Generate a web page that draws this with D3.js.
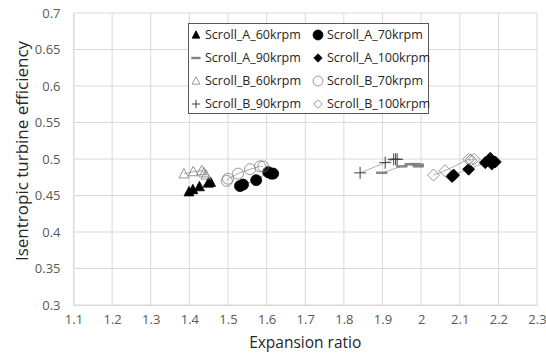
<!DOCTYPE html>
<html>
<head>
<meta charset="utf-8">
<script src="https://cdn.jsdelivr.net/npm/d3@7"></script>
<style>
  body { margin:0; background:#fff; }
  text { font-family: "Open Sans", "Liberation Sans", sans-serif; }
</style>
</head>
<body>
<svg width="546" height="357"></svg>
<script>
// series data: [expansion ratio, isentropic efficiency]
const seriesNames = ["Scroll_A_60krpm","Scroll_A_70krpm","Scroll_A_90krpm","Scroll_A_100krpm",
                     "Scroll_B_60krpm","Scroll_B_70krpm","Scroll_B_90krpm","Scroll_B_100krpm"];
const scrollA60 = [[1.399,0.455],[1.409,0.458],[1.426,0.462],[1.449,0.467],[1.455,0.468]];
const scrollA70 = [[1.531,0.463],[1.539,0.465],[1.573,0.471],[1.604,0.482],[1.612,0.480],[1.617,0.480]];
const scrollA90 = [[1.898,0.481],[1.950,0.490],[1.972,0.493],[1.985,0.493],[1.993,0.492],[1.993,0.490]];
const scrollA100 = [[2.080,0.476],[2.084,0.478],[2.123,0.486],[2.166,0.495],[2.179,0.501],[2.183,0.493],[2.192,0.496]];
const scrollB60 = [[1.386,0.4795],[1.410,0.4826],[1.432,0.484],[1.438,0.481],[1.443,0.478]];
const scrollB70 = [[1.497,0.470],[1.500,0.473],[1.526,0.480],[1.557,0.486],[1.583,0.490],[1.591,0.4897]];
const scrollB90 = [[1.842,0.481],[1.907,0.495],[1.929,0.4996],[1.934,0.4996],[1.938,0.4996]];
const scrollB100 = [[2.032,0.478],[2.062,0.484],[2.123,0.4996],[2.129,0.4986],[2.137,0.4996]];
const xTicks = [1.1,1.2,1.3,1.4,1.5,1.6,1.7,1.8,1.9,2,2.1,2.2,2.3];
const yTicks = [0.3,0.35,0.4,0.45,0.5,0.55,0.6,0.65,0.7];

const series = [
  {name:seriesNames[0], data:scrollA60, sym:"tri", fill:"#000"},
  {name:seriesNames[1], data:scrollA70, sym:"circle", fill:"#000"},
  {name:seriesNames[2], data:scrollA90, sym:"dash", fill:"#808080"},
  {name:seriesNames[3], data:scrollA100, sym:"diamond", fill:"#000"},
  {name:seriesNames[4], data:scrollB60, sym:"tri", fill:"none"},
  {name:seriesNames[5], data:scrollB70, sym:"circle", fill:"none"},
  {name:seriesNames[6], data:scrollB90, sym:"plus", fill:"none"},
  {name:seriesNames[7], data:scrollB100, sym:"diamond", fill:"none"}
];

const svg = d3.select("svg");
const margin = {top:13, right:9, bottom:52, left:73.5};
const width = +svg.attr("width"), height = +svg.attr("height");
const innerWidth = width - margin.left - margin.right;
const innerHeight = height - margin.top - margin.bottom;

const xScale = d3.scaleLinear().domain([1.1,2.3]).range([0, innerWidth]);
const yScale = d3.scaleLinear().domain([0.3,0.7]).range([innerHeight, 0]);

const g = svg.append("g").attr("transform", `translate(${margin.left},${margin.top})`);

// gridlines
g.selectAll(".vg").data(xTicks).enter().append("line")
  .attr("x1", d => xScale(d)).attr("x2", d => xScale(d))
  .attr("y1", 0).attr("y2", innerHeight)
  .attr("stroke", "#d9d9d9").attr("stroke-width", 1);
g.selectAll(".hg").data(yTicks).enter().append("line")
  .attr("y1", d => yScale(d)).attr("y2", d => yScale(d))
  .attr("x1", 0).attr("x2", innerWidth)
  .attr("stroke", "#d9d9d9").attr("stroke-width", 1);

// axes
const xAxis = d3.axisBottom(xScale).tickValues(xTicks).tickSize(0).tickPadding(10).tickFormat(d3.format("~g"));
const yAxis = d3.axisLeft(yScale).tickValues(yTicks).tickSize(0).tickPadding(13).tickFormat(d3.format("~g"));
g.append("g").attr("transform", `translate(0,${innerHeight})`).call(xAxis)
  .call(a => a.select(".domain").attr("stroke", "#d9d9d9"))
  .selectAll("text").attr("fill", "#595959").style("font-size", "13px");
g.append("g").call(yAxis)
  .call(a => a.select(".domain").attr("stroke", "#d9d9d9"))
  .selectAll("text").attr("fill", "#595959").style("font-size", "13px");

// axis titles
svg.append("text").attr("x", margin.left + innerWidth/2).attr("y", 348)
  .attr("text-anchor", "middle").style("font-size", "15.5px").attr("fill", "#262626")
  .text("Expansion ratio");
svg.append("text").attr("transform", `translate(28,${margin.top + innerHeight/2 - 8}) rotate(-90)`)
  .attr("text-anchor", "middle").style("font-size", "17px").attr("fill", "#262626")
  .text("Isentropic turbine efficiency");

// marker drawer
function drawMarker(sel, sym, fill, s) {
  const stroke = fill === "none" ? "#7f7f7f" : fill;
  if (sym === "tri") {
    sel.append("path").attr("d", `M0,${-s*0.6}L${s*0.55},${s*0.45}L${-s*0.55},${s*0.45}Z`)
      .attr("fill", fill === "none" ? "#fff" : fill).attr("fill-opacity", fill === "none" ? 0 : 1)
      .attr("stroke", stroke).attr("stroke-width", 0.8);
  } else if (sym === "circle") {
    sel.append("circle").attr("r", s*0.55)
      .attr("fill", fill === "none" ? "#fff" : fill).attr("fill-opacity", fill === "none" ? 0 : 1)
      .attr("stroke", stroke).attr("stroke-width", 0.8);
  } else if (sym === "diamond") {
    sel.append("path").attr("d", `M0,${-s*0.6}L${s*0.6},0L0,${s*0.6}L${-s*0.6},0Z`)
      .attr("fill", fill === "none" ? "#fff" : fill).attr("fill-opacity", fill === "none" ? 0 : 1)
      .attr("stroke", stroke).attr("stroke-width", 0.8);
  } else if (sym === "dash") {
    sel.append("rect").attr("x", -s*0.6).attr("y", -1).attr("width", s*1.2).attr("height", 2)
      .attr("fill", "#8c8c8c").attr("stroke", "#595959").attr("stroke-width", 0.3);
  } else if (sym === "plus") {
    sel.append("path").attr("d", `M${-s*0.6},0H${s*0.6}M0,${-s*0.6}V${s*0.6}`)
      .attr("stroke", "#404040").attr("stroke-width", 1).attr("fill", "none");
  }
}

// trend lines (thin gray) for each series
const line = d3.line().x(d => xScale(d[0])).y(d => yScale(d[1]));
series.forEach(s => {
  g.append("path").datum(s.data.slice().sort((a,b) => a[0]-b[0]))
    .attr("d", line).attr("fill", "none")
    .attr("stroke", "#8c8c8c").attr("stroke-width", 0.7);
});

// markers
const sizes = {tri:9, circle:10, diamond:10, dash:9, plus:10};
series.forEach(s => {
  g.selectAll(null).data(s.data).enter().append("g")
    .attr("transform", d => `translate(${xScale(d[0])},${yScale(d[1])})`)
    .each(function() { drawMarker(d3.select(this), s.sym, s.fill, sizes[s.sym]); });
});

// legend
const legend = svg.append("g");
legend.append("rect").attr("x", 188.5).attr("y", 23.5).attr("width", 240).attr("height", 90)
  .attr("fill", "#fff").attr("stroke", "#595959").attr("stroke-width", 1);
series.forEach((s, i) => {
  const col = i % 2, row = Math.floor(i / 2);
  const lx = col === 0 ? 196 : 318;
  const ly = 35 + row * 23;
  const mg = legend.append("g").attr("transform", `translate(${lx},${ly})`);
  drawMarker(mg, s.sym, s.fill, s.sym === "circle" ? 9 : 7);
  legend.append("text").attr("x", lx + 9).attr("y", ly).attr("dy", "0.35em")
    .style("font-size", "12.5px").attr("fill", "#262626").text(s.name);
});
</script>
</body>
</html>
